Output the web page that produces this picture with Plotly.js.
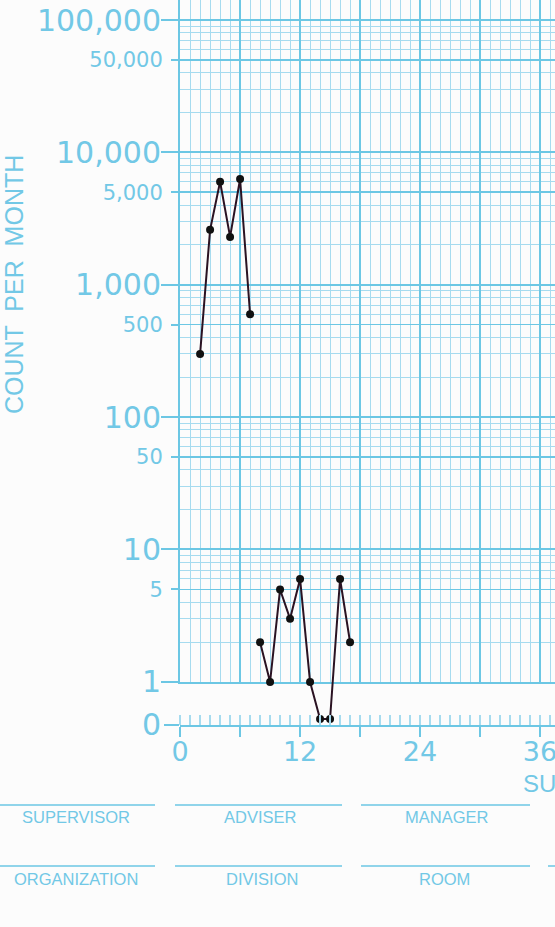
<!DOCTYPE html>
<html>
<head>
<meta charset="utf-8">
<script src="https://cdn.plot.ly/plotly-3.0.1.min.js"></script>
<style>
  html, body { margin: 0; padding: 0; overflow: hidden; background: #fcfcfc; }
  #chart { width: 555px; height: 927px; }
</style>
</head>
<body>
<div id="chart"></div>
<script>
// ---------------- DATA ----------------
const upperMonths = [2, 3, 4, 5, 6, 7];
const upperCounts = [300, 2600, 6000, 2300, 6300, 600];

const lowerMonths = [8, 9, 10, 11, 12, 13, 14, 15, 16, 17];
const lowerCounts = [2, 1, 5, 3, 6, 1, 0, 0, 6, 2];

const decadeValues = [1, 10, 100, 1000, 10000, 100000];
const decadeLabels = ['1', '10', '100', '1,000', '10,000', '100,000'];
const fiveValues = [5, 50, 500, 5000, 50000];
const fiveLabels = ['5', '50', '500', '5,000', '50,000'];
const monthTickValues = [0, 6, 12, 18, 24, 30, 36];
const monthTickLabels = ['0', '', '12', '', '24', '', '36'];

const yTitle = 'COUNT  PER  MONTH';
const xTitle = 'SUCCESSIVE  CALENDAR  MONTHS';
const footerRow1 = ['SUPERVISOR', 'ADVISER', 'MANAGER'];
const footerRow2 = ['ORGANIZATION', 'DIVISION', 'ROOM'];

// ---------------- GEOMETRY / STYLE ----------------
const W = 555, H = 927;
const LEFT = 180;
const ONE_PX = 682;        // pixel row of count = 1
const ZERO_AXIS_PX = 725;  // pixel row of the zero line
const ZERO_POINT_PX = 719; // where zero counts are plotted
const DECADE_PX = 132.4;
const PX_PER_MONTH = 10;
const plotW = W - LEFT;
const plotH = ZERO_AXIS_PX;

const topLog = ONE_PX / DECADE_PX;
const bottomLog = -(ZERO_AXIS_PX - ONE_PX) / DECADE_PX;
const ZERO_ROW = Math.pow(10, -(ZERO_POINT_PX - ONE_PX) / DECADE_PX);
const xRange = [-0.01, plotW / PX_PER_MONTH];

const px2x = p => (p - LEFT) / plotW;
const px2y = p => 1 - p / plotH;

const BLUE = '#6cc7e4';
const TEXT = '#72c8e6';
const MINOR = '#a6dbef';
const FONT_BIG = 'DejaVu Sans, sans-serif';
const FONT_SMALL = 'Liberation Sans, Arial, sans-serif';

const minorVals = [];
for (let d = 0; d < 6; d++) {
  for (let k = 2; k <= 9; k++) {
    if (k !== 5) minorVals.push(k * Math.pow(10, d));
  }
}

const toPlot = arr => arr.map(v => (v === 0 ? ZERO_ROW : v));

const lineStyle = { color: '#2a1222', width: 2 };
const markerStyle = { color: '#111', size: 8 };

const traces = [
  { x: [null], y: [null], xaxis: 'x', yaxis: 'y', type: 'scatter', hoverinfo: 'skip', showlegend: false },
  { x: [null], y: [null], xaxis: 'x', yaxis: 'y3', type: 'scatter', hoverinfo: 'skip', showlegend: false },
  {
    x: upperMonths, y: toPlot(upperCounts), xaxis: 'x2', yaxis: 'y2',
    type: 'scatter', mode: 'lines+markers', line: lineStyle, marker: markerStyle,
    showlegend: false, cliponaxis: false
  },
  {
    x: lowerMonths, y: toPlot(lowerCounts), xaxis: 'x2', yaxis: 'y2',
    type: 'scatter', mode: 'lines+markers', line: lineStyle, marker: markerStyle,
    showlegend: false, cliponaxis: false
  }
];

const annotations = [
  {
    text: yTitle, xref: 'paper', yref: 'paper', x: px2x(14), y: px2y(285),
    textangle: -90, showarrow: false, xanchor: 'center', yanchor: 'middle',
    font: { family: FONT_SMALL, size: 25, color: TEXT }
  },
  {
    text: xTitle, xref: 'paper', yref: 'paper', x: px2x(521), y: px2y(784),
    showarrow: false, xanchor: 'left', yanchor: 'middle',
    font: { family: FONT_SMALL, size: 24, color: TEXT }
  }
];
const footerX1 = [76, 260, 447];
const footerX2 = [76, 262, 444];
footerRow1.forEach((t, i) => annotations.push({
  text: t, xref: 'paper', yref: 'paper', x: px2x(footerX1[i]), y: px2y(817),
  showarrow: false, xanchor: 'center', yanchor: 'middle',
  font: { family: FONT_SMALL, size: 16.5, color: TEXT }
}));
footerRow2.forEach((t, i) => annotations.push({
  text: t, xref: 'paper', yref: 'paper', x: px2x(footerX2[i]), y: px2y(879),
  showarrow: false, xanchor: 'center', yanchor: 'middle',
  font: { family: FONT_SMALL, size: 16.5, color: TEXT }
}));

const shapes = [];
const segs1 = [[0, 155], [175, 342], [361, 530]];
const segs2 = [[0, 155], [175, 342], [361, 530], [548, 560]];
segs1.forEach(s => shapes.push({
  type: 'line', xref: 'paper', yref: 'paper', x0: px2x(s[0]), x1: px2x(s[1]),
  y0: px2y(805), y1: px2y(805), line: { color: BLUE, width: 1.5 }
}));
segs2.forEach(s => shapes.push({
  type: 'line', xref: 'paper', yref: 'paper', x0: px2x(s[0]), x1: px2x(s[1]),
  y0: px2y(866), y1: px2y(866), line: { color: BLUE, width: 1.5 }
}));

const layout = {
  width: W, height: H,
  margin: { l: LEFT, r: 0, t: 0, b: H - ZERO_AXIS_PX, pad: 0 },
  paper_bgcolor: '#fcfcfc',
  plot_bgcolor: 'rgba(0,0,0,0)',
  showlegend: false,
  xaxis: {
    domain: [0, 1], range: xRange, anchor: 'y', fixedrange: true,
    tick0: 0, dtick: 6, showgrid: true, gridcolor: BLUE, gridwidth: 2,
    minor: { tick0: 0, dtick: 1, showgrid: true, gridcolor: MINOR, gridwidth: 1, ticks: '' },
    showticklabels: false, ticks: '', zeroline: false,
    showline: true, linecolor: BLUE, linewidth: 2
  },
  yaxis: {
    domain: [px2y(ONE_PX), 1], type: 'log', range: [-0.001, topLog], anchor: 'x', fixedrange: true,
    tickmode: 'array', tickvals: decadeValues, ticktext: decadeLabels,
    ticks: 'outside', ticklen: 17, tickwidth: 2, tickcolor: BLUE,
    tickfont: { family: FONT_BIG, size: 30, color: TEXT }, ticklabelstandoff: -6,
    showgrid: true, gridcolor: BLUE, gridwidth: 2,
    minor: { tickmode: 'array', tickvals: minorVals, showgrid: true, gridcolor: MINOR, gridwidth: 1, ticks: '' },
    showline: true, linecolor: BLUE, linewidth: 2, zeroline: false
  },
  yaxis3: {
    overlaying: 'y', type: 'log', range: [-0.001, topLog], anchor: 'x', side: 'left', fixedrange: true,
    tickmode: 'array', tickvals: fiveValues, ticktext: fiveLabels,
    ticks: 'outside', ticklen: 8, tickwidth: 2, tickcolor: BLUE,
    tickfont: { family: FONT_BIG, size: 21, color: TEXT }, ticklabelstandoff: 4,
    showgrid: true, gridcolor: BLUE, gridwidth: 1.5, showline: false, zeroline: false
  },
  xaxis2: {
    domain: [0, 1], range: xRange, anchor: 'y2', fixedrange: true,
    tickmode: 'array', tickvals: monthTickValues, ticktext: monthTickLabels,
    ticks: 'outside', ticklen: 10, tickwidth: 2, tickcolor: BLUE,
    tickfont: { family: FONT_BIG, size: 27, color: TEXT }, ticklabelstandoff: -8,
    ticklabeloverflow: 'allow',
    minor: { tick0: 0, dtick: 1, ticks: 'inside', ticklen: 10, tickwidth: 1.5, tickcolor: MINOR, showgrid: false },
    showgrid: false, zeroline: false, showline: true, linecolor: BLUE, linewidth: 2
  },
  yaxis2: {
    domain: [0, 1], type: 'log', range: [bottomLog, topLog], anchor: 'x2', fixedrange: true,
    tickmode: 'array', tickvals: [Math.pow(10, bottomLog + 0.002)], ticktext: ['0'],
    ticks: 'outside', ticklen: 15, tickwidth: 2, tickcolor: BLUE,
    tickfont: { family: FONT_BIG, size: 30, color: TEXT }, ticklabelstandoff: -3,
    showgrid: false, zeroline: false, showline: false
  },
  annotations: annotations,
  shapes: shapes
};

Plotly.newPlot('chart', traces, layout, { displayModeBar: false, staticPlot: true });
</script>
</body>
</html>
